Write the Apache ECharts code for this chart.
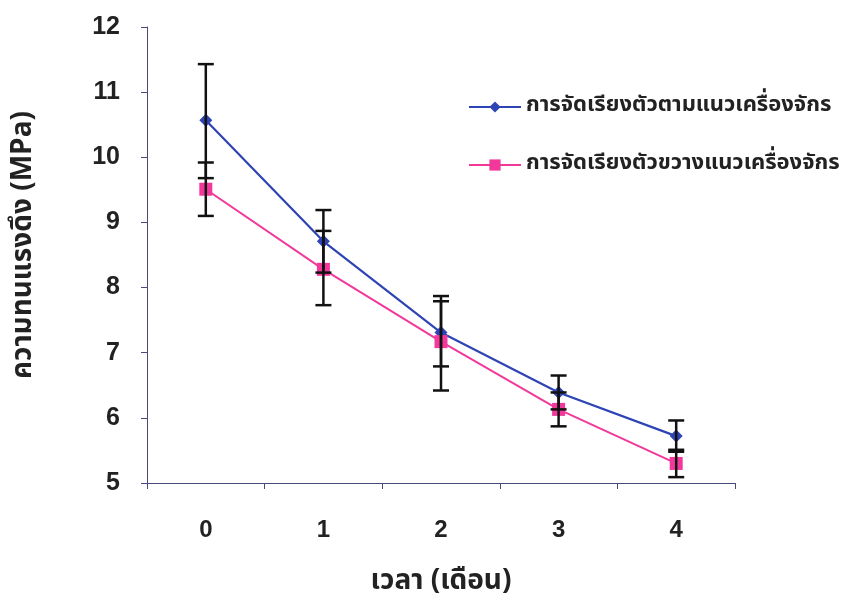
<!DOCTYPE html>
<html>
<head>
<meta charset="utf-8">
<script src="https://cdn.jsdelivr.net/npm/echarts@6/dist/echarts.min.js"></script>
<style>
html,body{margin:0;padding:0;background:#fff;}
#chart{width:847px;height:602px;}
</style>
</head>
<body>
<div id="chart"></div>
<script>
var categories = ['0', '1', '2', '3', '4'];
var seriesNames = ['การจัดเรียงตัวตามแนวเครื่องจักร', 'การจัดเรียงตัวขวางแนวเครื่องจักร'];
var alongValues = [10.57, 8.71, 7.31, 6.39, 5.72];
var alongLow = [9.68, 8.23, 6.79, 6.13, 5.48];
var alongHigh = [11.43, 9.19, 7.87, 6.65, 5.96];
var acrossValues = [9.51, 8.28, 7.17, 6.13, 5.30];
var acrossLow = [9.10, 7.73, 6.42, 5.87, 5.09];
var acrossHigh = [9.92, 8.87, 7.79, 6.39, 5.51];
var yTitle = 'ความทนแรงดึง (MPa)';
var xTitle = 'เวลา (เดือน)';

var chart = echarts.init(document.getElementById('chart'));

function errData(low, high) {
  return categories.map(function (c, i) { return [i, low[i], high[i]]; });
}
function errRender(params, api) {
  var x = api.value(0);
  var lo = api.coord([x, api.value(1)]);
  var hi = api.coord([x, api.value(2)]);
  var hw = 8;
  var st = { stroke: '#111', lineWidth: 2.5 };
  return {
    type: 'group',
    children: [
      { type: 'line', shape: { x1: lo[0], y1: lo[1], x2: hi[0], y2: hi[1] }, style: st },
      { type: 'line', shape: { x1: lo[0] - hw, y1: lo[1], x2: lo[0] + hw, y2: lo[1] }, style: st },
      { type: 'line', shape: { x1: hi[0] - hw, y1: hi[1], x2: hi[0] + hw, y2: hi[1] }, style: st }
    ]
  };
}

var thaiFont = '"Noto Sans Thai", "Noto Sans", "DejaVu Sans", sans-serif';
var axisColor = '#4a4a7a';

chart.setOption({
  animation: false,
  backgroundColor: '#fff',
  grid: { left: 147, right: 112, top: 27, bottom: 117 },
  legend: {
    orient: 'vertical',
    left: 463,
    top: 91,
    itemGap: 36,
    itemWidth: 52,
    itemHeight: 14,
    data: seriesNames,
    textStyle: { fontFamily: thaiFont, fontSize: 22, fontWeight: 'bold', color: '#222' }
  },
  xAxis: {
    type: 'category',
    data: categories,
    boundaryGap: true,
    name: xTitle,
    nameLocation: 'middle',
    nameGap: 86,
    nameTextStyle: { fontFamily: thaiFont, fontSize: 28, fontWeight: 'bold', color: '#222' },
    axisLine: { lineStyle: { color: axisColor, width: 1 } },
    axisTick: { show: true, length: 6, lineStyle: { color: axisColor } },
    axisLabel: { margin: 35, fontFamily: 'Liberation Sans, Arial, sans-serif', fontSize: 24, fontWeight: 'bold', color: '#222' }
  },
  yAxis: {
    type: 'value',
    min: 5,
    max: 12,
    interval: 1,
    name: yTitle,
    nameLocation: 'middle',
    nameGap: 108,
    nameRotate: 90,
    nameTextStyle: { fontFamily: thaiFont, fontSize: 28, fontWeight: 'bold', color: '#222', padding: [0, 0, 0, 20] },
    splitLine: { show: false },
    axisLine: { show: true, lineStyle: { color: axisColor, width: 1 } },
    axisTick: { show: true, length: 6, lineStyle: { color: axisColor } },
    axisLabel: { margin: 27, fontFamily: 'Liberation Sans, Arial, sans-serif', fontSize: 25, fontWeight: 'bold', color: '#222' }
  },
  series: [
    {
      name: seriesNames[0],
      type: 'line',
      data: alongValues,
      symbol: 'diamond',
      symbolSize: 13,
      itemStyle: { color: '#2e44b4' },
      lineStyle: { color: '#2e44b4', width: 2.2 },
      z: 3
    },
    {
      name: seriesNames[1],
      type: 'line',
      data: acrossValues,
      symbol: 'rect',
      symbolSize: 13,
      itemStyle: { color: '#f2389a' },
      lineStyle: { color: '#f2389a', width: 2 },
      z: 3
    },
    {
      type: 'custom',
      renderItem: errRender,
      data: errData(alongLow, alongHigh),
      z: 4,
      silent: true
    },
    {
      type: 'custom',
      renderItem: errRender,
      data: errData(acrossLow, acrossHigh),
      z: 4,
      silent: true
    }
  ]
});
</script>
</body>
</html>
